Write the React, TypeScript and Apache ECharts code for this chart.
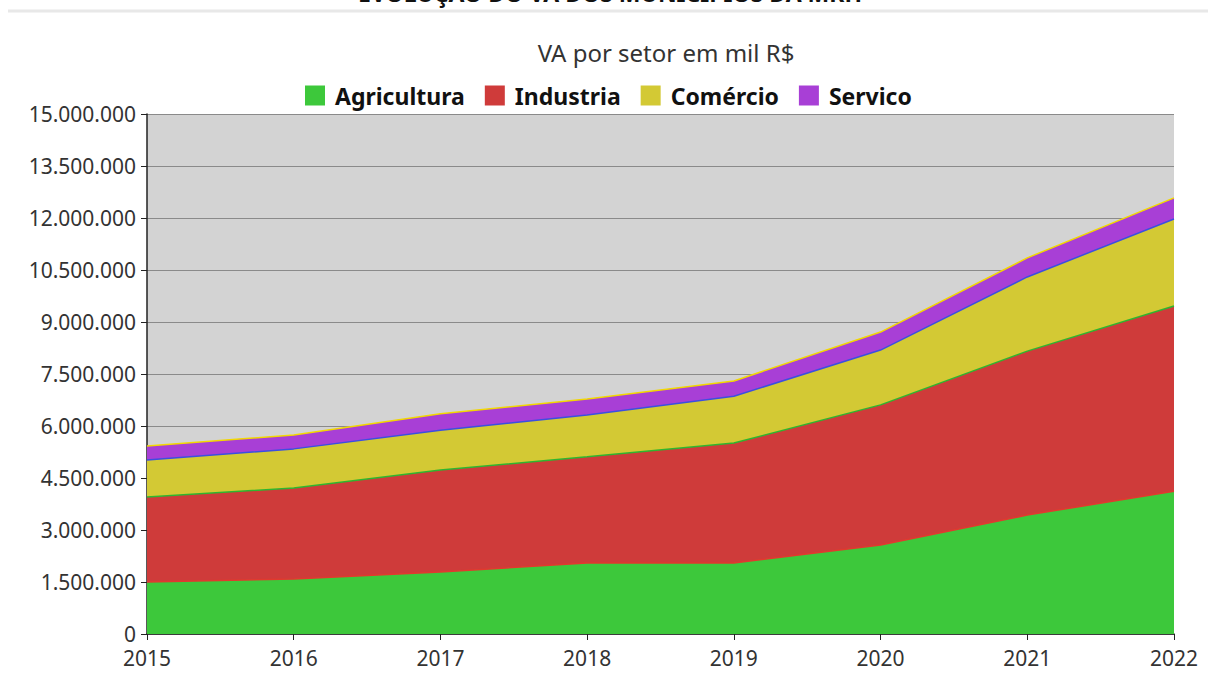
import React, { useEffect, useRef } from "react";
import * as echarts from "echarts";

const years = ["2015", "2016", "2017", "2018", "2019", "2020", "2021", "2022"];
const agricultura = [1500000, 1590000, 1790000, 2050000, 2050000, 2570000, 3430000, 4120000];
const industria = [2450000, 2620000, 2940000, 3060000, 3460000, 4040000, 4730000, 5340000];
const comercio = [1070000, 1130000, 1150000, 1210000, 1350000, 1580000, 2140000, 2510000];
const servico = [400000, 400000, 470000, 460000, 440000, 520000, 550000, 610000];

const fmt = (v: number) => String(Math.round(v)).replace(/\B(?=(\d{3})+(?!\d))/g, ".");

export default function App() {
  const ref = useRef<HTMLDivElement>(null);
  useEffect(() => {
    if (!ref.current) return;
    const chart = echarts.init(ref.current, undefined, { renderer: "svg" });
    const font = "'Noto Sans', 'Open Sans', sans-serif";
    const mk = (name: string, data: number[], fill: string, line: string) => ({
      name,
      type: "line",
      stack: "total",
      data,
      symbol: "none",
      showSymbol: false,
      itemStyle: { color: fill },
      lineStyle: { color: line, width: 1.5 },
      areaStyle: { color: fill, opacity: 1 },
    });
    chart.setOption({
      animation: false,
      backgroundColor: "#ffffff",
      textStyle: { fontFamily: font },
      title: {
        text: "VA por setor em mil R$",
        left: 661,
        textAlign: "center",
        top: 35,
        textStyle: { fontSize: 24, fontWeight: "normal", color: "#333", fontFamily: font },
      },
      legend: {
        top: 79,
        left: 300,
        itemWidth: 20,
        itemHeight: 20,
        itemGap: 20,
        icon: "rect",
        textStyle: { fontSize: 23, fontWeight: "bold", color: "#111", fontFamily: font, padding: [0, 0, 0, 5] },
        data: ["Agricultura", "Industria", "Comércio", "Servico"],
      },
      grid: {
        left: 147,
        right: 34,
        top: 114,
        bottom: 63,
        show: true,
        backgroundColor: "#d3d3d3",
        borderWidth: 0,
      },
      graphic: [
        {
          type: "text",
          x: 610,
          y: -19,
          style: {
            text: "EVOLUÇÃO DO VA DOS MUNICÍPIOS DA MRH",
            font: "bold 23px 'Noto Sans', sans-serif",
            fill: "#111",
            textAlign: "center",
            textVerticalAlign: "top",
          },
        },
        {
          type: "line",
          shape: { x1: 8, y1: 11, x2: 1208, y2: 11 },
          style: { stroke: "#e8e8e8", lineWidth: 3 },
        },
      ],
      xAxis: {
        type: "category",
        data: years,
        boundaryGap: false,
        axisLine: { lineStyle: { color: "#222", width: 1.5 } },
        axisTick: { show: true, alignWithLabel: true, length: 6, lineStyle: { color: "#222" } },
        axisLabel: { fontSize: 21, color: "#333", margin: 13, fontFamily: font },
        splitLine: { show: false },
      },
      yAxis: {
        type: "value",
        min: 0,
        max: 15000000,
        interval: 1500000,
        axisLine: { show: true, lineStyle: { color: "#222", width: 1.5 } },
        axisTick: { show: true, length: 6, lineStyle: { color: "#222" } },
        axisLabel: { fontSize: 21, color: "#333", margin: 11, formatter: (v: number) => fmt(v), fontFamily: font },
        splitLine: { show: true, lineStyle: { color: "#8a8a8a", width: 1 } },
      },
      series: [
        mk("Agricultura", agricultura, "#3dc83b", "#e03a2e"),
        mk("Industria", industria, "#cf3b3a", "#2fb52f"),
        mk("Comércio", comercio, "#d3c934", "#3b4fe0"),
        mk("Servico", servico, "#a83fd6", "#f2d800"),
      ],
    });
    return () => chart.dispose();
  }, []);
  return (
    <div
      ref={ref}
      style={{ position: "absolute", left: 0, top: 0, width: 1208, height: 697 }}
    />
  );
}
